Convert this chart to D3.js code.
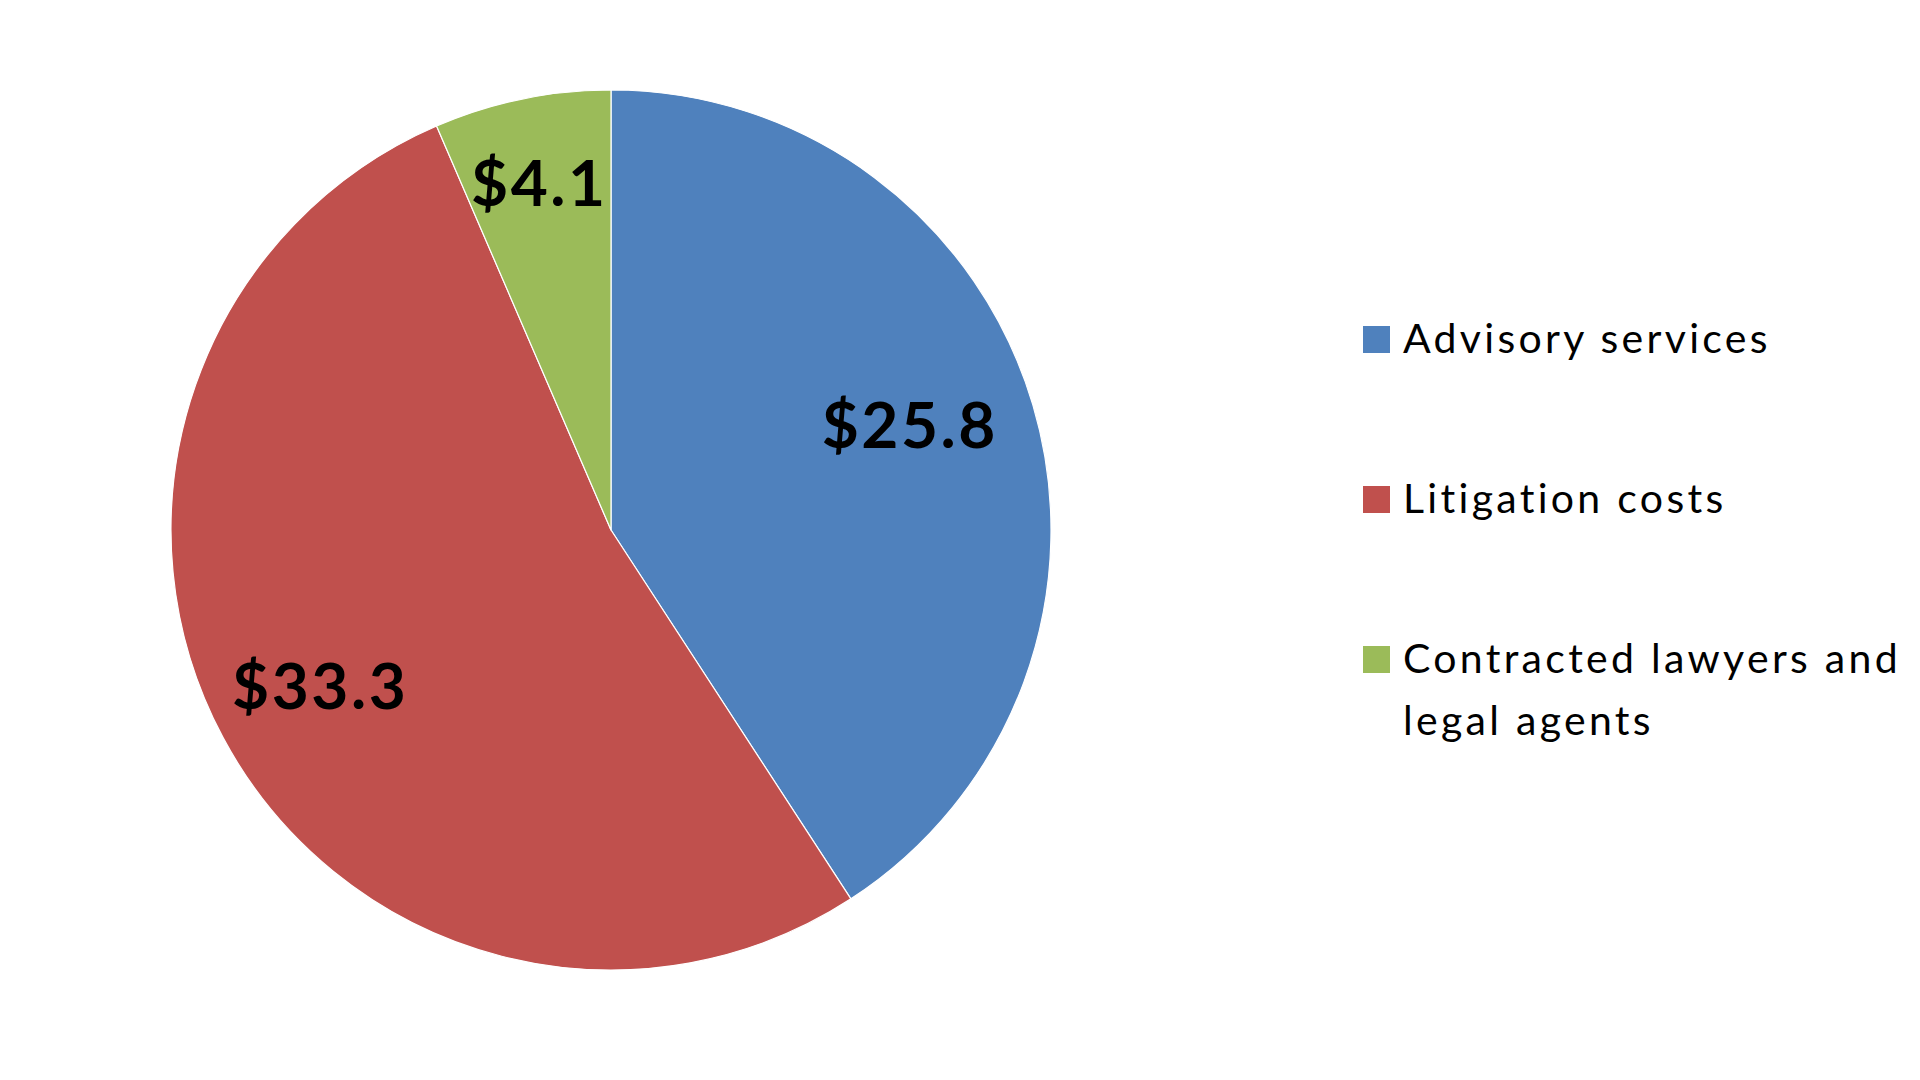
<!DOCTYPE html>
<html>
<head>
<meta charset="utf-8">
<script src="https://cdn.jsdelivr.net/npm/d3@7"></script>
<style>
  html, body { margin: 0; padding: 0; background: #fff; }
  svg { display: block; }
  .slice-label { font-family: Lato, "Open Sans", sans-serif; font-weight: 700; fill: #000; letter-spacing: 2.5px; }
  .legend-text { font-family: Lato, "Open Sans", sans-serif; fill: #000; letter-spacing: 3.3px; }
</style>
</head>
<body>
<svg id="chart"></svg>
<script>
const categories = ["Advisory services", "Litigation costs", "Contracted lawyers and legal agents"];
const values = [25.8, 33.3, 4.1];
const colors = ["#4F81BD", "#C0504D", "#9BBB59"];
// legend wording split the way the reference wraps it
const legendLines = [["Advisory services"], ["Litigation costs"], ["Contracted lawyers and", "legal agents"]];

drawPie();

function drawPie() {
  const width = 1920;
  const height = 1080;
  const radius = 440;
  const cx = 611;
  const cy = 530;
  // label placement tweaks (fraction of radius, angle nudge in degrees)
  const labelRadius = [0.72, 0.75, 0.805];
  const labelShift = [-2.9, 0, 0];

  const svg = d3.select("#chart")
    .attr("width", width)
    .attr("height", height);

  const data = categories.map((name, i) => ({ name, value: values[i], color: colors[i], idx: i }));

  const pie = d3.pie()
    .value((d) => d.value)
    .sort(null);

  const arc = d3.arc()
    .innerRadius(0)
    .outerRadius(radius);

  const g = svg.append("g")
    .attr("transform", `translate(${cx}, ${cy})`);

  const slices = pie(data);

  g.selectAll("path")
    .data(slices)
    .enter()
    .append("path")
    .attr("d", arc)
    .attr("fill", (d) => d.data.color)
    .attr("stroke", "#ffffff")
    .attr("stroke-width", 1.2)
    .attr("stroke-linejoin", "round");

  g.selectAll(".slice-label")
    .data(slices)
    .enter()
    .append("text")
    .attr("class", "slice-label")
    .attr("transform", (d) => {
      const i = d.data.idx;
      const r = radius * labelRadius[i];
      const a = (d.startAngle + d.endAngle) / 2 + labelShift[i] * Math.PI / 180;
      return `translate(${r * Math.sin(a)}, ${-r * Math.cos(a)})`;
    })
    .attr("text-anchor", "middle")
    .attr("dy", "0.36em")
    .style("font-size", "64px")
    .text((d) => `$${d.data.value.toFixed(1)}`);

  const legendX = 1363;
  const legendY = 353;
  const legendStep = 160;
  const boxSize = 27;
  const lineHeight = 62;

  const legend = svg.selectAll(".legend")
    .data(data)
    .enter()
    .append("g")
    .attr("class", "legend")
    .attr("transform", (d, i) => `translate(${legendX}, ${legendY + i * legendStep})`);

  legend.append("rect")
    .attr("x", 0)
    .attr("y", -boxSize)
    .attr("width", boxSize)
    .attr("height", boxSize)
    .attr("fill", (d) => d.color);

  legend.append("text")
    .attr("class", "legend-text")
    .style("font-size", "41px")
    .selectAll("tspan")
    .data((d) => legendLines[d.idx])
    .enter()
    .append("tspan")
    .attr("x", 40)
    .attr("y", (l, j) => j * lineHeight)
    .text((l) => l);
}
</script>
</body>
</html>
